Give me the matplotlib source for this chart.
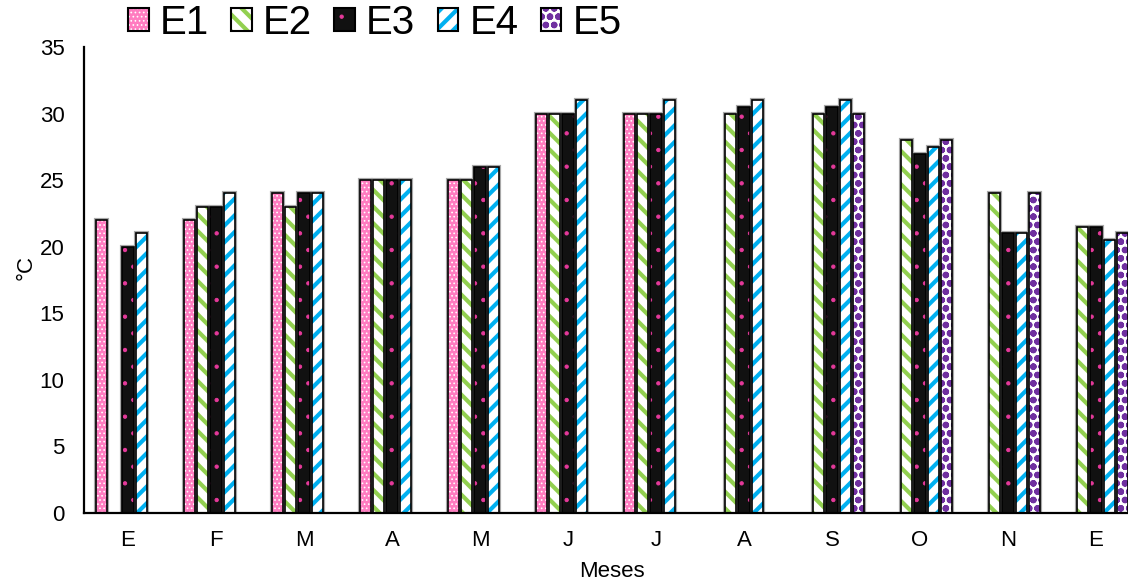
import numpy as np
import matplotlib
matplotlib.use("Agg")
import matplotlib.pyplot as plt
from matplotlib.legend_handler import HandlerTuple, HandlerPatch
from matplotlib.patches import Rectangle

plt.rcParams["font.family"] = ["Liberation Sans", "DejaVu Sans"]

months = ["E", "F", "M", "A", "M", "J", "J", "A", "S", "O", "N", "E"]
nan = np.nan
e1 = [22, 22, 24, 25, 25, 30, 30, nan, nan, nan, nan, nan]
e2 = [nan, 23, 23, 25, 25, 30, 30, 30, 30, 28, 24, 21.5]
e3 = [20, 23, 24, 25, 26, 30, 30, 30.5, 30.5, 27, 21, 21.5]
e4 = [21, 24, 24, 25, 26, 31, 31, 31, 31, 27.5, 21, 20.5]
e5 = [nan, nan, nan, nan, nan, nan, nan, nan, 30, 28, 24, 21]
series_names = ["E1", "E2", "E3", "E4", "E5"]
series_values = [e1, e2, e3, e4, e5]
y_ticks = [0, 5, 10, 15, 20, 25, 30, 35]

# face colour, hatch pattern, hatch colour, hatch line width
styles = [
    ("#FF7CC0", "....", "#FFFFFF", 0.7),
    ("#FFFFFF", "\\\\", "#92D050", 3.0),
    ("#111111", ".", "#E5399A", 0.7),
    ("#FFFFFF", "//", "#00B0F0", 3.0),
    ("#FFFFFF", "oo", "#7030A0", 2.3),
]


def hatch_width(patch, lw):
    """Give a patch its own hatch line width, whichever way the library supports."""
    patch.hatch_lw = lw
    if hasattr(patch, "set_hatch_linewidth"):
        patch.set_hatch_linewidth(lw)
    if hasattr(patch, "_hatch_linewidth"):
        patch._hatch_linewidth = lw
    base_draw = patch.draw

    def draw(renderer):
        with plt.rc_context({"hatch.linewidth": lw}):
            base_draw(renderer)

    patch.draw = draw


class HandlerHatch(HandlerPatch):
    """Legend handler that keeps the hatch line width of the source patch."""

    def create_artists(self, legend, orig_handle, xdescent, ydescent,
                       width, height, fontsize, trans):
        lw = getattr(orig_handle, "hatch_lw", None)
        if lw is not None:
            with plt.rc_context({"hatch.linewidth": lw}):
                arts = super().create_artists(legend, orig_handle, xdescent, ydescent,
                                              width, height, fontsize, trans)
            for a in arts:
                hatch_width(a, lw)
            return arts
        return super().create_artists(legend, orig_handle, xdescent, ydescent,
                                      width, height, fontsize, trans)


W, H = 1128, 581
fig = plt.figure(figsize=(W / 100, H / 100), dpi=100)
ax = fig.add_axes([84 / W, 68 / H, 1056 / W, 466 / H])

x = np.arange(len(months))
pitch = 0.151
width = 0.13

handles = []
for k, (name, vals) in enumerate(zip(series_names, series_values)):
    face, hatch, hcol, hlw = styles[k]
    xs = x + (k - 2) * pitch
    with plt.rc_context({"hatch.linewidth": hlw}):
        bars = ax.bar(xs, vals, width, color=face, edgecolor=hcol,
                      hatch=hatch, linewidth=0, zorder=2)
        p1 = Rectangle((0, 0), 1, 1, facecolor=face, edgecolor=hcol,
                       hatch=hatch, linewidth=0)
    for b in bars:
        hatch_width(b, hlw)
    hatch_width(p1, hlw)
    ax.bar(xs, vals, width, fill=False, edgecolor="#A8A8A8", linewidth=3.0, zorder=1)
    ax.bar(xs, vals, width, fill=False, edgecolor="black", linewidth=1.2, zorder=3)

    p2 = Rectangle((0, 0), 1, 1, fill=False, edgecolor="black", linewidth=1.5)
    handles.append((p1, p2))

ax.set_xlim(-0.5, len(months) - 0.5)
ax.set_ylim(0, 35)
ax.set_yticks(y_ticks)
ax.set_xticks(x)
ax.set_xticklabels(months)
ax.tick_params(axis="both", length=0, labelsize=16)
ax.tick_params(axis="y", pad=14)
ax.tick_params(axis="x", pad=12)
for s in ["top", "right"]:
    ax.spines[s].set_visible(False)
for s in ["left", "bottom"]:
    ax.spines[s].set_linewidth(1.6)
    ax.spines[s].set_color("black")

fig.text(612 / W, 1 - 577 / H, "Meses", ha="center", va="baseline", fontsize=16)
fig.text(26 / W, 1 - 268 / H, "°C", ha="center", va="center", fontsize=16,
         rotation=90)

fig.legend(handles, series_names,
           handler_map={tuple: HandlerTuple(ndivide=1), Rectangle: HandlerHatch()},
           loc="upper left", bbox_to_anchor=(128 / W, 1 - 4 / H), ncol=5,
           frameon=False, fontsize=29, handlelength=0.52, handleheight=0.52,
           handletextpad=0.27, columnspacing=0.55, borderpad=0, borderaxespad=0)

fig.savefig("out.png", dpi=100)
